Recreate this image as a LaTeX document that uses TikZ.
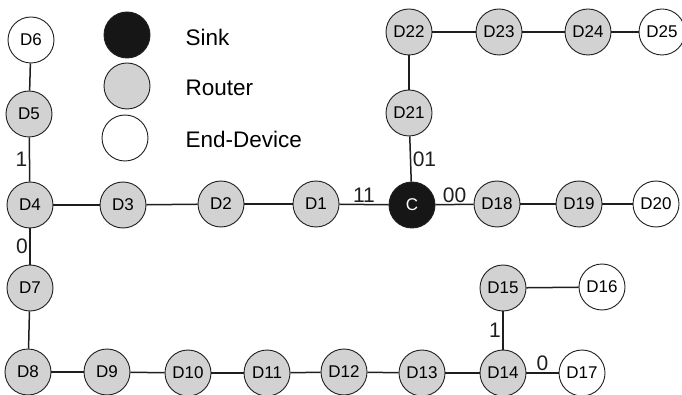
\documentclass[tikz,border=0pt]{standalone}
\usepackage{fontspec}
\setmainfont{Liberation Sans}
\usepackage{xcolor}
\definecolor{routergray}{RGB}{210,210,210}
\definecolor{sinkblack}{RGB}{22,22,22}
\definecolor{edgeblack}{RGB}{30,30,30}
\usetikzlibrary{positioning}

\begin{document}
\begin{tikzpicture}[
  x=1pt, y=-1pt,
  dev/.style={
    circle, draw=edgeblack, line width=0.9pt,
    minimum size=46pt, inner sep=0pt,
    font=\fontsize{17}{19}\selectfont
  },
  router/.style={dev, fill=routergray},
  enddev/.style={dev, fill=white},
  sink/.style={dev, fill=sinkblack, text=white},
  link/.style={line width=1.5pt, color=edgeblack},
  lbl/.style={font=\fontsize{21}{23}\selectfont, inner sep=1.5pt},
  legtxt/.style={anchor=west, font=\fontsize{22.5}{24}\selectfont},
]
\useasboundingbox (0,0) rectangle (682,395);

%% Leyenda
\node[sink]   (lsink)   at (127, 35)  {};
\node[router] (lrouter) at (127, 86)  {};
\node[enddev] (lend)    at (125,138)  {};
\node[legtxt] (tsink)   at (182, 37)  {Sink};
\node[legtxt] (trouter) at (182, 88)  {Router};
\node[legtxt] (tend)    at (182,139)  {End-Device};

%% Rama izquierda
\node[enddev] (d6)  at ( 31, 40)  {D6};
\node[router] (d5)  at ( 29,114)  {D5};
\node[router] (d4)  at ( 30,205)  {D4};
\node[router] (d3)  at (123,205)  {D3};
\node[router] (d2)  at (221,204)  {D2};
\node[router] (d1)  at (316,204)  {D1};
\node[sink]   (c)   at (412,205)  {C};

%% Rama superior
\node[router] (d21) at (409,113)  {D21};
\node[router] (d22) at (409, 32)  {D22};
\node[router] (d23) at (499, 32)  {D23};
\node[router] (d24) at (588, 32)  {D24};
\node[enddev] (d25) at (662, 32)  {D25};

%% Rama derecha
\node[router] (d18) at (497,204)  {D18};
\node[router] (d19) at (579,204)  {D19};
\node[enddev] (d20) at (656,204)  {D20};

%% Rama inferior
\node[router] (d7)  at ( 30,288)  {D7};
\node[router] (d8)  at ( 28,372)  {D8};
\node[router] (d9)  at (107,372)  {D9};
\node[router] (d10) at (188,373)  {D10};
\node[router] (d11) at (267,373)  {D11};
\node[router] (d12) at (344,372)  {D12};
\node[router] (d13) at (422,373)  {D13};
\node[router] (d14) at (503,373)  {D14};
\node[enddev] (d17) at (582,373)  {D17};
\node[router] (d15) at (503,288)  {D15};
\node[enddev] (d16) at (602,287)  {D16};

%% Enlaces
\draw[link] (d6) -- (d5);
\draw[link] (d5) -- node[lbl, left] {1} (d4);
\draw[link] (d4) -- (d3);
\draw[link] (d3) -- (d2);
\draw[link] (d2) -- (d1);
\draw[link] (d1) -- node[lbl, above] {11} (c);
\draw[link] (c)  -- node[lbl, right] {01} (d21);
\draw[link] (d21) -- (d22);
\draw[link] (d22) -- (d23);
\draw[link] (d23) -- (d24);
\draw[link] (d24) -- (d25);
\draw[link] (c)  -- node[lbl, above] {00} (d18);
\draw[link] (d18) -- (d19);
\draw[link] (d19) -- (d20);
\draw[link] (d4) -- node[lbl, left] {0} (d7);
\draw[link] (d7) -- (d8);
\draw[link] (d8) -- (d9);
\draw[link] (d9) -- (d10);
\draw[link] (d10) -- (d11);
\draw[link] (d11) -- (d12);
\draw[link] (d12) -- (d13);
\draw[link] (d13) -- (d14);
\draw[link] (d14) -- node[lbl, left] {1} (d15);
\draw[link] (d15) -- (d16);
\draw[link] (d14) -- node[lbl, above] {0} (d17);

\end{tikzpicture}
\end{document}
